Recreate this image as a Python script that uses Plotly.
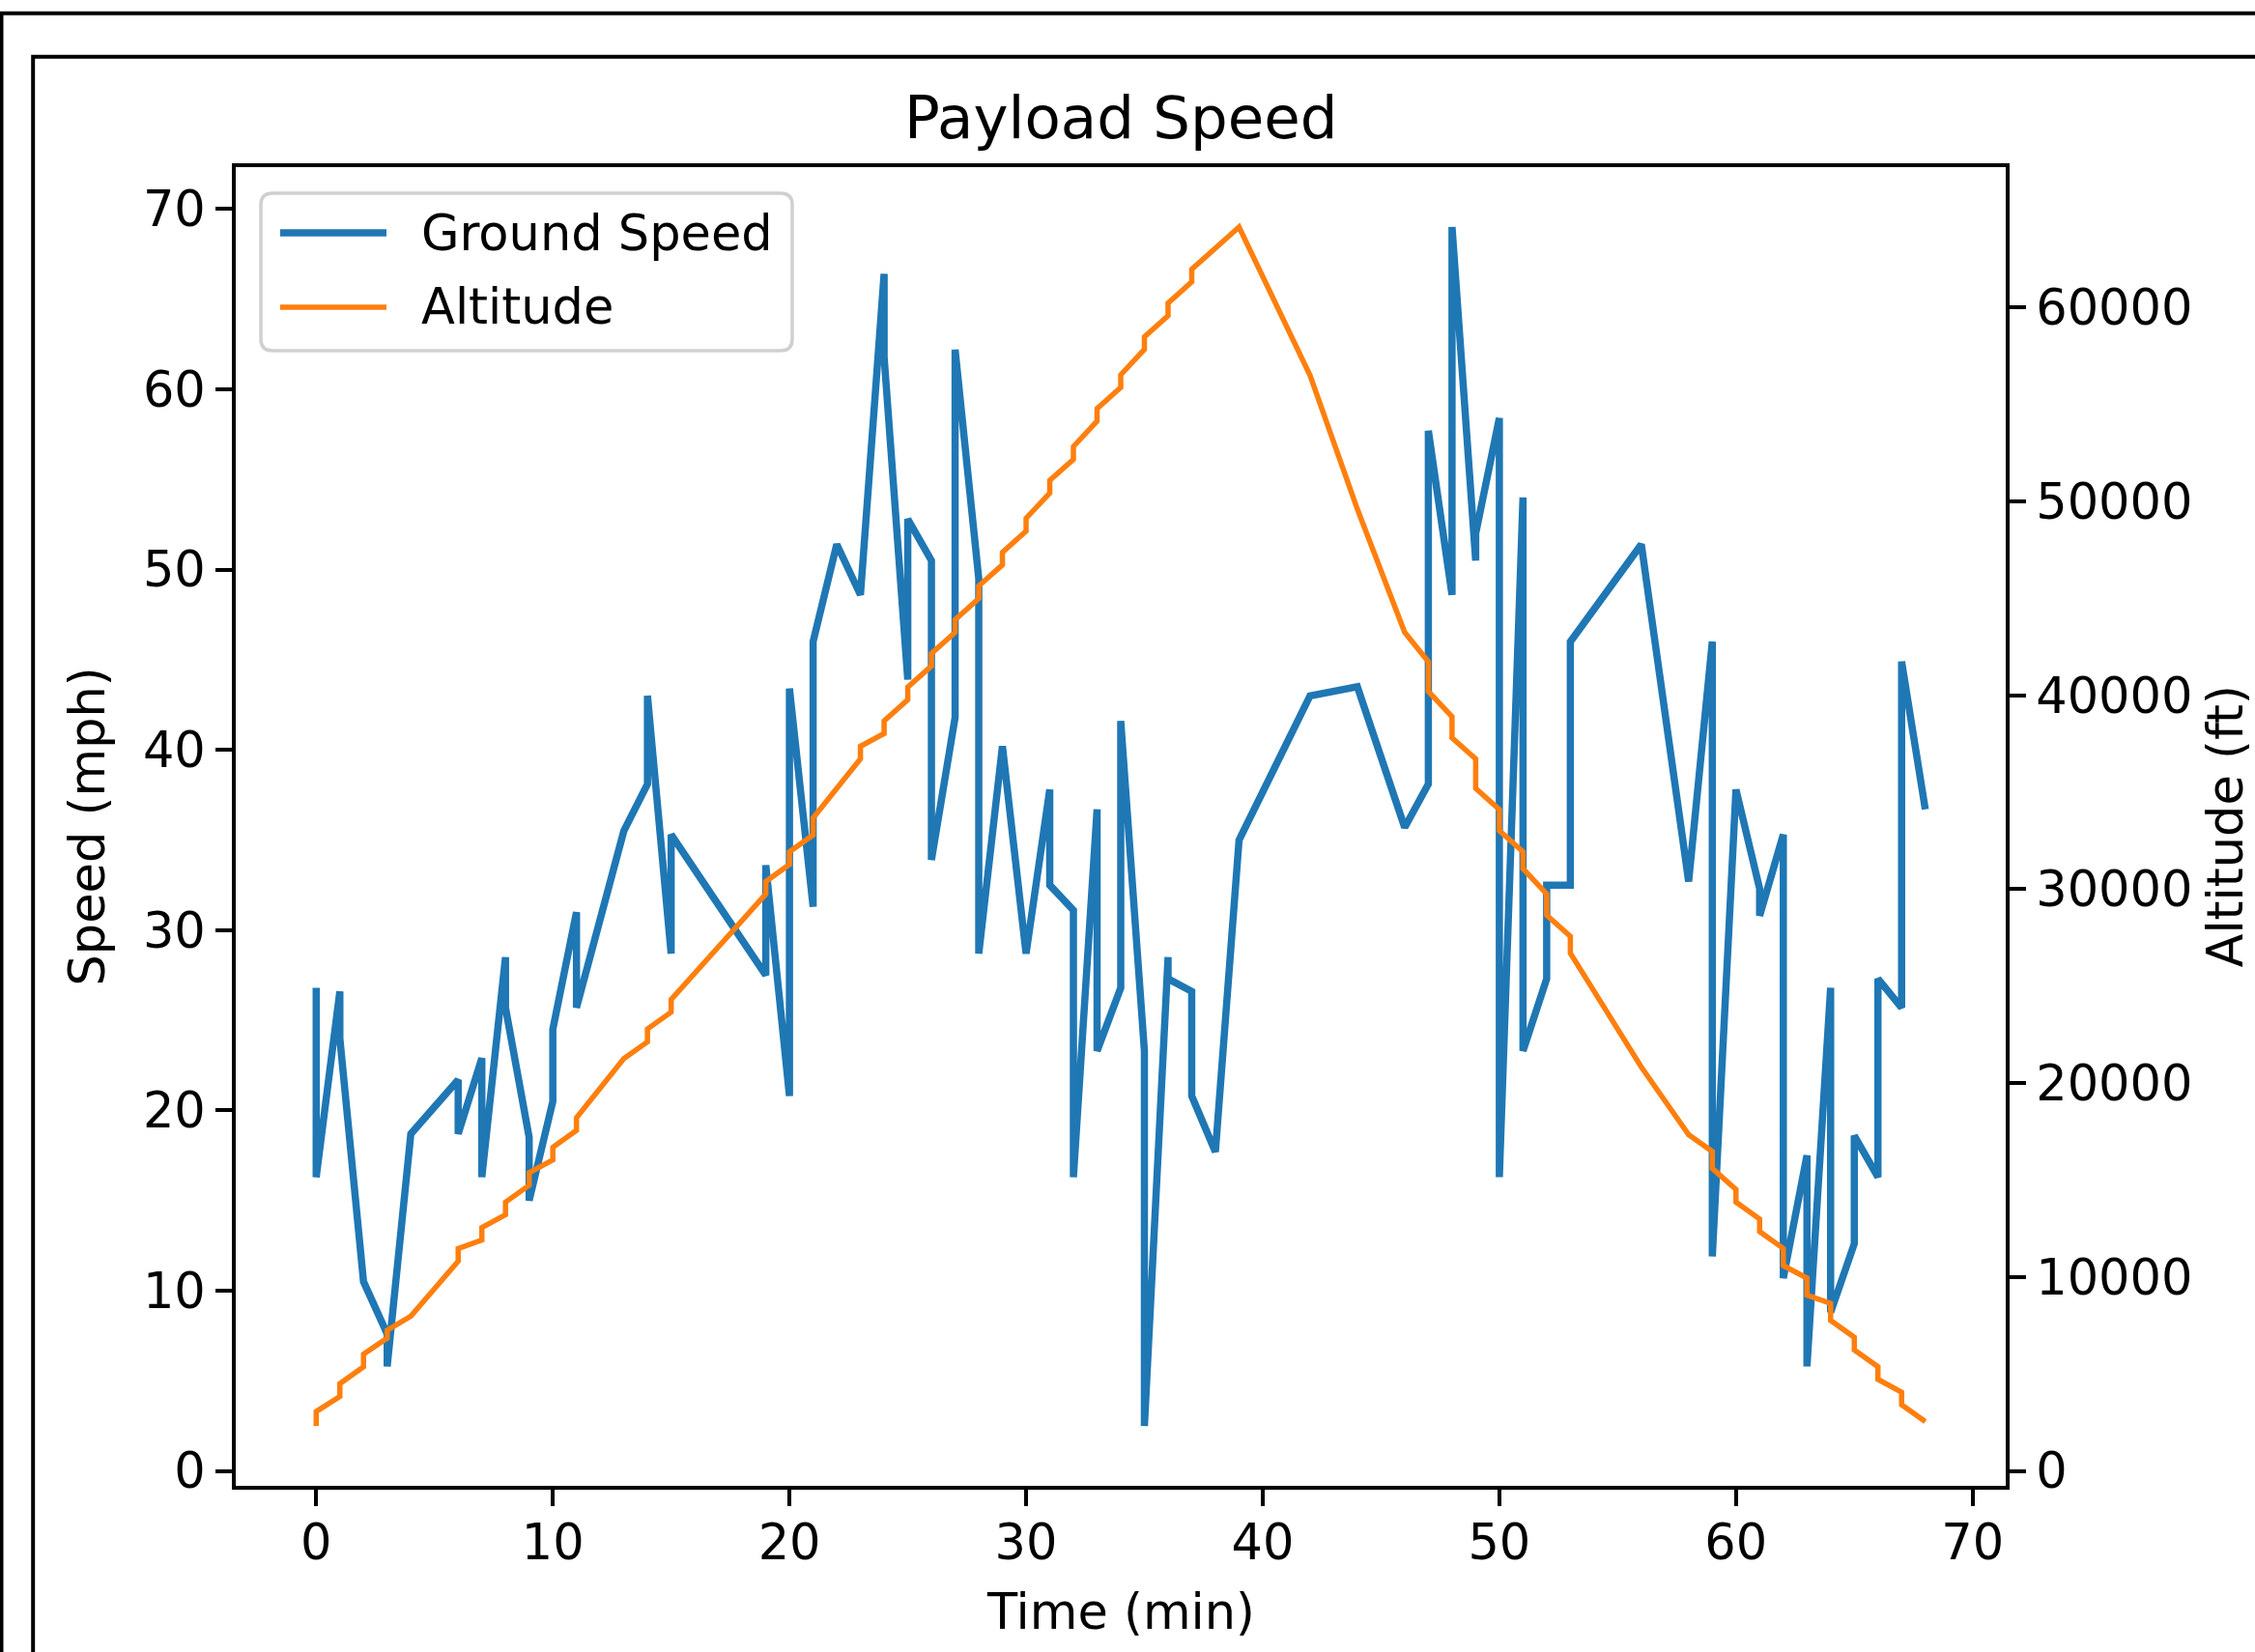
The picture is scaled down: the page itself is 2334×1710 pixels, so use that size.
import plotly.graph_objects as go

# ---------------- data ----------------
time_min = [0, 0, 1, 1, 2, 2, 3, 3, 4, 6, 6, 7, 7, 8, 8, 9, 9, 10, 10, 11, 11, 13,
            14, 14, 15, 15, 19, 19, 20, 20, 21, 21, 22, 23, 23, 24, 24, 25, 25,
            26, 26, 27, 27, 28, 28, 29, 29, 30, 30, 31, 31, 32, 32, 33, 33, 34, 34,
            35, 35, 36, 36, 37, 37, 38, 39, 42, 44, 46, 47, 47, 48, 48, 49, 49,
            50, 50, 51, 51, 52, 52, 53, 53, 56, 58, 59, 59, 60, 60, 61, 61, 62, 62,
            63, 63, 64, 64, 65, 65, 66, 66, 67, 67, 68]

speed_mph = [26.8, 16.3, 26.6, 24.0, 10.5, 10.5, 7.6, 5.8, 18.7, 21.7, 18.7, 22.9, 16.3,
             28.5, 25.7, 18.5, 15.0, 20.5, 24.5, 31.0, 25.7, 35.5,
             38.1, 43.0, 28.7, 35.3, 27.5, 33.6, 20.8, 43.4, 31.3, 46.0, 51.4, 48.6, 48.6,
             66.4, 61.8, 43.9, 52.8,
             50.5, 33.9, 41.8, 62.2, 49.5, 28.7, 40.2, 40.2, 28.7, 28.7, 37.8, 32.5,
             31.1, 16.3, 36.7, 23.3, 26.8, 41.6,
             23.3, 2.5, 28.5, 27.3, 26.6, 20.8, 17.7, 35.0, 43.0, 43.5, 35.7, 38.1, 57.7,
             48.6, 69.0, 50.5, 52.0,
             58.4, 16.3, 54.0, 23.3, 27.3, 32.5, 32.5, 46.0, 51.4, 32.7, 46.0, 11.9,
             37.8, 37.8, 32.3, 30.8, 35.3, 10.7,
             17.5, 5.8, 26.8, 8.8, 12.6, 18.6, 16.3, 27.3, 25.7, 44.9, 36.7]

altitude_ft = [2320, 3060, 3840, 4500, 5370, 6020, 6850, 7250, 7980, 10810, 11460,
               11900, 12550, 13210, 13860, 14730, 15380, 16040, 16690, 17560, 18210,
               21260, 22130, 22790, 23660, 24310, 29750, 30400, 31280, 31930, 32800,
               33670, 35200, 36720, 37370, 38030, 38680, 39770, 40420, 41510, 42160,
               43250, 43900, 44990, 45640, 46730, 47380, 48470, 49130, 50430, 51090,
               52170, 52830, 54140, 54790, 55880, 56530, 57840, 58490, 59580, 60230,
               61320, 61970, 63060, 64150, 56500, 49600, 43250, 41730, 40200, 38900,
               37810, 36720, 35200, 34110, 33020, 31930, 31060, 29750, 28660, 27570,
               26700, 20830, 17340, 16470, 15600, 14510, 13860, 12990, 12340, 11470,
               10590, 9940, 9070, 8640, 7760, 6890, 6240, 5370, 4720, 4060, 3410, 2540]

x_ticks = [0, 10, 20, 30, 40, 50, 60, 70]
speed_ticks = [0, 10, 20, 30, 40, 50, 60, 70]
alt_ticks = [0, 10000, 20000, 30000, 40000, 50000, 60000]

title_text = "Payload Speed"
x_label = "Time (min)"
y_label = "Speed (mph)"
y2_label = "Altitude (ft)"
series_names = ["Ground Speed", "Altitude"]

# ---------------- layout geometry ----------------
W, H = 2334, 1710
L, R, T, B = 244, 2076, 173, 1538  # plot area in pixels
FONT = "DejaVu Sans"
FS = 51
BLUE = "#1f77b4"
ORANGE = "#ff7f0e"
BLUE_W, ORANGE_W = 7.5, 5.5


def xp(px):
    return (px - L) / (R - L)


def yp(py):
    return (B - py) / (B - T)


def auto_range(vals, frac=0.05):
    lo, hi = min(vals), max(vals)
    pad = (hi - lo) * frac
    return [lo - pad, hi + pad]


fig = go.Figure()
fig.add_trace(go.Scatter(x=time_min, y=speed_mph, mode="lines", name=series_names[0],
                         line=dict(color=BLUE, width=BLUE_W), yaxis="y"))
fig.add_trace(go.Scatter(x=time_min, y=altitude_ft, mode="lines", name=series_names[1],
                         line=dict(color=ORANGE, width=ORANGE_W), yaxis="y2"))

axis_common = dict(showgrid=False, zeroline=False, showline=True, linecolor="black",
                   linewidth=4, ticks="outside", ticklen=17, tickwidth=4,
                   tickcolor="black", tickfont=dict(family=FONT, size=FS, color="black"))

fig.update_layout(
    width=W, height=H,
    margin=dict(l=L, r=W - R, t=T, b=H - B, pad=0),
    paper_bgcolor="white", plot_bgcolor="white",
    showlegend=False,
    xaxis=dict(range=auto_range(time_min), tickvals=x_ticks, mirror=True,
               ticklabelstandoff=-6, **axis_common),
    yaxis=dict(range=auto_range(speed_mph), tickvals=speed_ticks, mirror=True, **axis_common),
    yaxis2=dict(range=auto_range(altitude_ft), tickvals=alt_ticks, tickformat="d",
                overlaying="y", side="right", **axis_common),
)

annotations = [
    dict(text=title_text, x=0.5, y=yp(122), font=dict(family=FONT, size=61, color="black")),
    dict(text=x_label, x=0.5, y=yp(1668), font=dict(family=FONT, size=FS, color="black")),
    dict(text=y_label, x=xp(90), y=0.5, textangle=-90, font=dict(family=FONT, size=FS, color="black")),
    dict(text=y2_label, x=xp(2303), y=0.5, textangle=-90, font=dict(family=FONT, size=FS, color="black")),
    dict(text=series_names[0], x=xp(434), y=yp(241), xanchor="left",
         font=dict(family=FONT, size=FS, color="black")),
    dict(text=series_names[1], x=xp(434), y=yp(318), xanchor="left",
         font=dict(family=FONT, size=FS, color="black")),
]
for a in annotations:
    a.setdefault("xanchor", "center")
    a.update(xref="paper", yref="paper", yanchor="middle", showarrow=False)
fig.update_layout(annotations=annotations)

# legend frame (rounded) and line samples
lx0, ly0, lx1, ly1, r = 270, 200, 820, 363, 12
rx, ry = r / (R - L), r / (B - T)
path = (f"M{xp(lx0)+rx},{yp(ly0)} L{xp(lx1)-rx},{yp(ly0)} Q{xp(lx1)},{yp(ly0)} {xp(lx1)},{yp(ly0)-ry} "
        f"L{xp(lx1)},{yp(ly1)+ry} Q{xp(lx1)},{yp(ly1)} {xp(lx1)-rx},{yp(ly1)} "
        f"L{xp(lx0)+rx},{yp(ly1)} Q{xp(lx0)},{yp(ly1)} {xp(lx0)},{yp(ly1)+ry} "
        f"L{xp(lx0)},{yp(ly0)-ry} Q{xp(lx0)},{yp(ly0)} {xp(lx0)+rx},{yp(ly0)} Z")
shapes = [
    dict(type="path", path=path, xref="paper", yref="paper",
         line=dict(color="#d0d0d0", width=3.5), fillcolor="rgba(255,255,255,0.8)"),
    dict(type="line", xref="paper", yref="paper", x0=xp(290), x1=xp(400), y0=yp(241), y1=yp(241),
         line=dict(color=BLUE, width=BLUE_W)),
    dict(type="line", xref="paper", yref="paper", x0=xp(290), x1=xp(400), y0=yp(318), y1=yp(318),
         line=dict(color=ORANGE, width=ORANGE_W)),
    # outer screenshot frames (top and left edges only are visible)
    dict(type="path", xref="paper", yref="paper",
         path=f"M{xp(1.5)},{yp(1800)} L{xp(1.5)},{yp(13.7)} L{xp(2500)},{yp(13.7)}",
         line=dict(color="black", width=4)),
    dict(type="path", xref="paper", yref="paper",
         path=f"M{xp(34.2)},{yp(1800)} L{xp(34.2)},{yp(58.7)} L{xp(2500)},{yp(58.7)}",
         line=dict(color="black", width=4)),
]
fig.update_layout(shapes=shapes)

fig.write_html("out.html")
